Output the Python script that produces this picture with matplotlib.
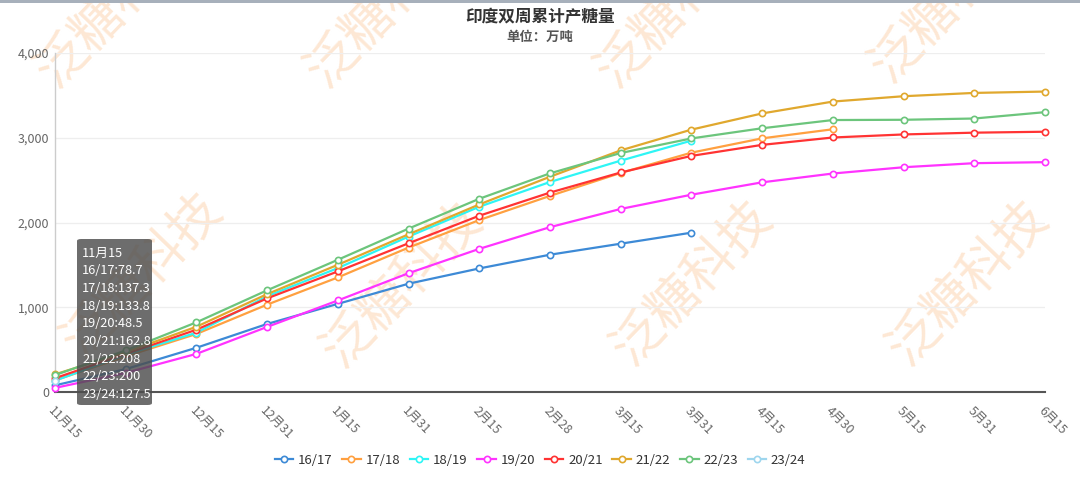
import matplotlib
matplotlib.use("Agg")
import matplotlib.pyplot as plt
from matplotlib.patches import FancyBboxPatch, Rectangle
from matplotlib.ticker import FuncFormatter

plt.rcParams['font.family'] = ['Noto Sans CJK SC', 'DejaVu Sans']

# ---------------- data ----------------
categories = ['11月15', '11月30', '12月15', '12月31', '1月15', '1月31', '2月15', '2月28',
              '3月15', '3月31', '4月15', '4月30', '5月15', '5月31', '6月15']

s_16_17 = [78.7, 270, 522, 803, 1040, 1278, 1458, 1620, 1750, 1880]
s_17_18 = [137.3, 420, 685, 1031, 1352, 1704, 2029, 2314, 2585, 2824, 2993, 3100]
s_18_19 = [133.8, 440, 700, 1130, 1462, 1834, 2186, 2478, 2730, 2966]
s_19_20 = [48.5, 225, 450, 768, 1080, 1402, 1689, 1945, 2160, 2328, 2474, 2578, 2652, 2700, 2712]
s_20_21 = [162.8, 450, 735, 1105, 1423, 1755, 2080, 2353, 2590, 2786, 2916, 3003, 3039, 3060, 3071]
s_21_22 = [208, 470, 770, 1155, 1501, 1861, 2213, 2540, 2851, 3096, 3287, 3427, 3490, 3529, 3545]
s_22_23 = [200, 490, 822, 1200, 1560, 1928, 2280, 2580, 2820, 2992, 3112, 3209, 3212, 3227, 3302]
s_23_24 = [127.5]

series_names = ['16/17', '17/18', '18/19', '19/20', '20/21', '21/22', '22/23', '23/24']
series_values = [s_16_17, s_17_18, s_18_19, s_19_20, s_20_21, s_21_22, s_22_23, s_23_24]
series_colors = ['#3d8ad6', '#ffa040', '#2ef5f5', '#ff33ff', '#ff3333', '#e0a82e', '#6cc57c', '#9ed6ee']

y_ticks = [0, 1000, 2000, 3000, 4000]

title = '印度双周累计产糖量'
subtitle = '单位：万吨'
watermark = '泛糖科技'

# ---------------- figure ----------------
W, H = 1080, 480
fig = plt.figure(figsize=(W / 100, H / 100), dpi=100)
fig.patch.set_facecolor('white')

def fx(px):
    return px / W

def fy(py):
    return 1 - py / H

ax_left, ax_right, ax_top, ax_bottom = 55, 1045, 53, 392
ax = fig.add_axes([fx(ax_left), fy(ax_bottom), (ax_right - ax_left) / W, (ax_bottom - ax_top) / H])
ax.set_facecolor('none')

x_all = list(range(len(categories)))
for name, vals, col in zip(series_names, series_values, series_colors):
    ax.plot(x_all[:len(vals)], vals, color=col, lw=1.6, marker='o', ms=4.5,
            markerfacecolor='white', markeredgecolor=col, markeredgewidth=1.2,
            label=name, zorder=3, clip_on=False, solid_joinstyle='round')

ax.set_xlim(0, len(categories) - 1)
ax.set_ylim(0, 4000)
ax.set_yticks(y_ticks)
ax.yaxis.set_major_formatter(FuncFormatter(lambda v, p: f'{int(v):,}'))
ax.set_xticks(x_all)
ax.set_xticklabels(categories, rotation=-45, ha='left', va='top', rotation_mode='anchor')
ax.tick_params(axis='x', length=0, pad=9, labelsize=9, labelcolor='#666666')
ax.tick_params(axis='y', length=0, pad=4, labelsize=9, labelcolor='#666666')
ax.grid(axis='y', color='#eeeeee', lw=0.9, zorder=0)
ax.set_axisbelow(True)
for sp in ['top', 'right']:
    ax.spines[sp].set_visible(False)
ax.spines['left'].set_color('#cccccc')
ax.spines['left'].set_linewidth(1.0)
ax.spines['bottom'].set_color('#555555')
ax.spines['bottom'].set_linewidth(1.5)

# title
fig.text(0.5, fy(17), title, ha='center', va='center', fontsize=12, fontweight='bold', color='#333333')
fig.text(0.5, fy(37), subtitle, ha='center', va='center', fontsize=9.6, fontweight='bold', color='#555555')

# legend
leg = fig.legend(loc='center', bbox_to_anchor=(0.5, fy(460)), ncol=8, frameon=False,
                 fontsize=9.5, handlelength=1.4, handletextpad=0.35, columnspacing=0.75, numpoints=1)
for t in leg.get_texts():
    t.set_color('#333333')

# top border bar
fig.patches.append(Rectangle((0, fy(3)), 1, 3 / H, transform=fig.transFigure,
                             facecolor='#a7b0bb', edgecolor='none', zorder=5))

# watermarks
wm_centers = [(117, 5), (387, 5), (677, 5), (951, 0),
              (143, 275), (403, 285), (693, 283), (969, 283)]
for cx, cy in wm_centers:
    fig.text(fx(cx), fy(cy), watermark, ha='center', va='center', rotation=46,
             fontsize=37, color='#fde0c6', alpha=0.75, zorder=-1, rotation_mode='anchor')

# tooltip
tb_left, tb_right, tb_top, tb_bottom = 77, 152, 239, 405
fig.patches.append(FancyBboxPatch((fx(tb_left), fy(tb_bottom)), (tb_right - tb_left) / W,
                                  (tb_bottom - tb_top) / H, boxstyle='round,pad=0,rounding_size=0.004',
                                  transform=fig.transFigure, facecolor='#4d4d4d', alpha=0.82,
                                  edgecolor='none', zorder=6))
tip_lines = [categories[0]] + [f'{n}:{v[0]:g}' for n, v in zip(series_names, series_values)]
for i, line in enumerate(tip_lines):
    fig.text(fx(82), fy(253 + i * 17.7), line, ha='left', va='center', fontsize=9.2,
             color='white', zorder=7)

fig.savefig('out.png', dpi=100, facecolor='white')
